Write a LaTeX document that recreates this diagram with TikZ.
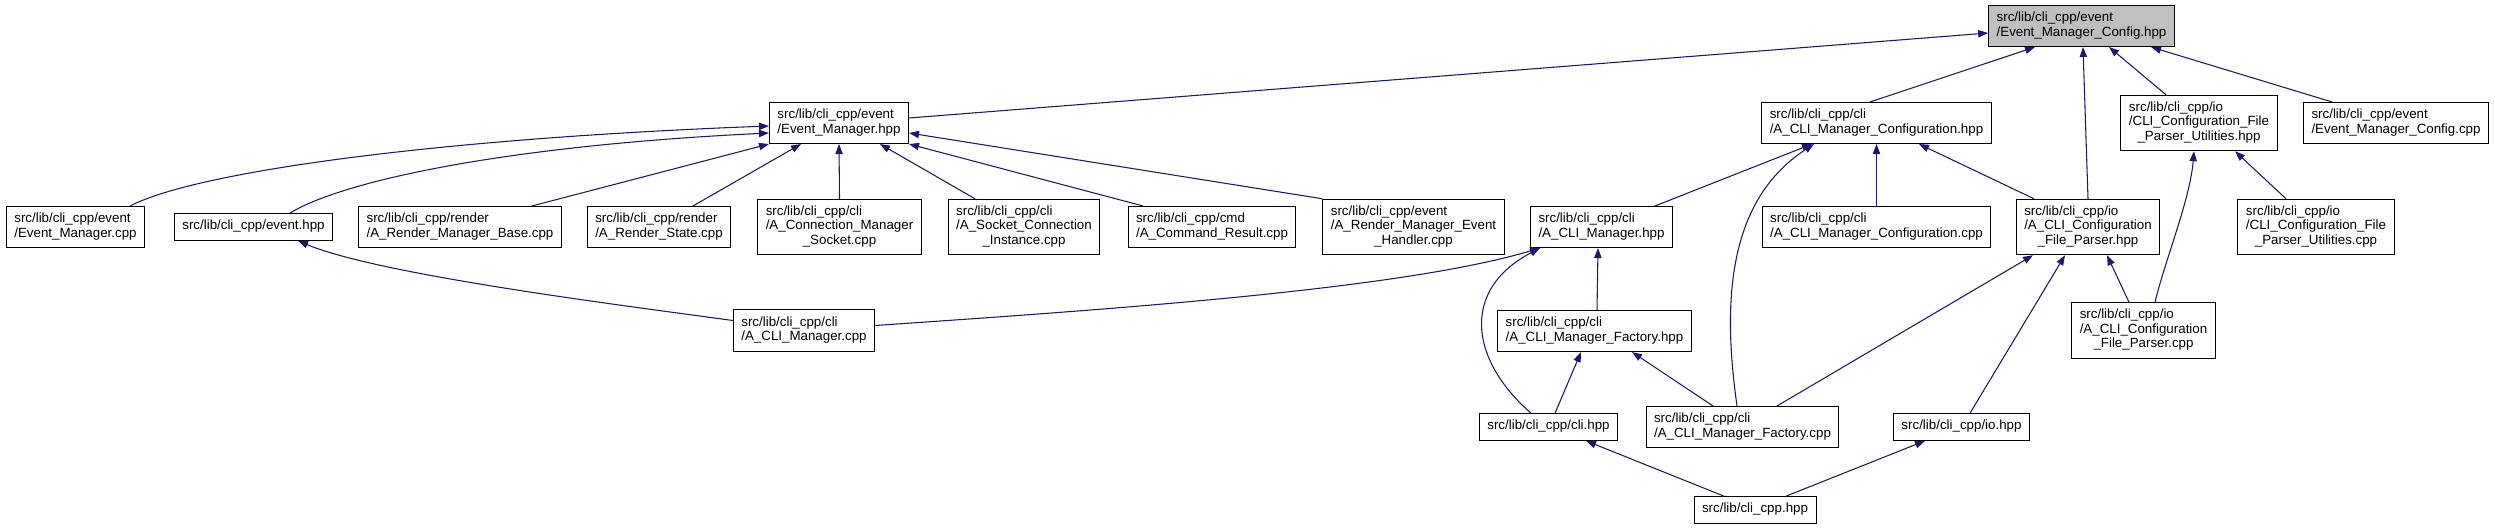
\documentclass[tikz,border=0pt]{standalone}
\usepackage{fontspec}
\setmainfont{Liberation Sans}
\usetikzlibrary{arrows.meta,calc}
\definecolor{edgecol}{HTML}{191970}
\definecolor{rootfill}{HTML}{BFBFBF}
\newcommand{\labone}[1]{\begin{tabular}{@{}l@{}}#1\end{tabular}}
\newcommand{\labtwo}[2]{\begin{tabular}{@{}l@{}}#1\\\multicolumn{1}{@{}c@{}}{#2}\end{tabular}}
\newcommand{\labthree}[3]{\begin{tabular}{@{}l@{}}#1\\#2\\\multicolumn{1}{@{}c@{}}{#3}\end{tabular}}
\tikzset{
  filebox/.style={draw=black, line width=0.75pt, fill=white, inner xsep=6pt, inner ysep=4.6pt,
    font=\fontsize{10}{10.8}\selectfont},
  rootbox/.style={filebox, fill=rootfill},
  dep/.style={draw=edgecol, line width=0.8pt, -{Triangle[length=7.5pt,width=5.5pt]}, fill=none}
}
\begin{document}
\begin{tikzpicture}[x=0.75pt,y=-0.75pt]
\useasboundingbox (0,0) rectangle (2495,528);
% row 0
\node[rootbox] (root) at (2081.5,26) {\labtwo{src/lib/cli\_cpp/event}{/Event\_Manager\_Config.hpp}};
% row 1
\node[filebox] (emh) at (839,123) {\labtwo{src/lib/cli\_cpp/event}{/Event\_Manager.hpp}};
\node[filebox] (cfgh) at (1876.5,123) {\labtwo{src/lib/cli\_cpp/cli}{/A\_CLI\_Manager\_Configuration.hpp}};
\node[filebox] (utilh) at (2199,123) {\labthree{src/lib/cli\_cpp/io}{/CLI\_Configuration\_File}{\_Parser\_Utilities.hpp}};
\node[filebox] (emcc) at (2396,123) {\labtwo{src/lib/cli\_cpp/event}{/Event\_Manager\_Config.cpp}};
% row 2
\node[filebox] (emcpp) at (75.5,227) {\labtwo{src/lib/cli\_cpp/event}{/Event\_Manager.cpp}};
\node[filebox] (eventh) at (253.5,227) {\labone{src/lib/cli\_cpp/event.hpp}};
\node[filebox] (rmb) at (460,227) {\labtwo{src/lib/cli\_cpp/render}{/A\_Render\_Manager\_Base.cpp}};
\node[filebox] (rs) at (659,227) {\labtwo{src/lib/cli\_cpp/render}{/A\_Render\_State.cpp}};
\node[filebox] (cms) at (839.5,227) {\labthree{src/lib/cli\_cpp/cli}{/A\_Connection\_Manager}{\_Socket.cpp}};
\node[filebox] (sci) at (1024,227) {\labthree{src/lib/cli\_cpp/cli}{/A\_Socket\_Connection}{\_Instance.cpp}};
\node[filebox] (cr) at (1212,227) {\labtwo{src/lib/cli\_cpp/cmd}{/A\_Command\_Result.cpp}};
\node[filebox] (rmeh) at (1413.5,227) {\labthree{src/lib/cli\_cpp/event}{/A\_Render\_Manager\_Event}{\_Handler.cpp}};
\node[filebox] (clih) at (1601.5,227) {\labtwo{src/lib/cli\_cpp/cli}{/A\_CLI\_Manager.hpp}};
\node[filebox] (cfgcpp) at (1876.5,227) {\labtwo{src/lib/cli\_cpp/cli}{/A\_CLI\_Manager\_Configuration.cpp}};
\node[filebox] (parserh) at (2088,227) {\labthree{src/lib/cli\_cpp/io}{/A\_CLI\_Configuration}{\_File\_Parser.hpp}};
\node[filebox] (utilcpp) at (2316,227) {\labthree{src/lib/cli\_cpp/io}{/CLI\_Configuration\_File}{\_Parser\_Utilities.cpp}};
% row 3
\node[filebox] (clicpp) at (804,330.5) {\labtwo{src/lib/cli\_cpp/cli}{/A\_CLI\_Manager.cpp}};
\node[filebox] (facth) at (1594.5,331) {\labtwo{src/lib/cli\_cpp/cli}{/A\_CLI\_Manager\_Factory.hpp}};
\node[filebox] (parsercpp) at (2143.5,330.5) {\labthree{src/lib/cli\_cpp/io}{/A\_CLI\_Configuration}{\_File\_Parser.cpp}};
% row 4
\node[filebox] (clihpp) at (1548.5,427) {\labone{src/lib/cli\_cpp/cli.hpp}};
\node[filebox] (factcpp) at (1742.5,427) {\labtwo{src/lib/cli\_cpp/cli}{/A\_CLI\_Manager\_Factory.cpp}};
\node[filebox] (ioh) at (1961.5,427) {\labone{src/lib/cli\_cpp/io.hpp}};
% row 5
\node[filebox] (top) at (1755,510) {\labone{src/lib/cli\_cpp.hpp}};

% edges to root
\draw[dep] ($(emh.east)+(0,-5)$) -- ($(root.west)+(0,7)$);
\draw[dep] ($(cfgh.north)+(-6.5,0)$) -- ($(root.south)+(-46.5,0)$);
\draw[dep] (parserh.north) -- ($(root.south)+(1.5,0)$);
\draw[dep] ($(utilh.north)+(-33,0)$) -- ($(root.south)+(27.5,0)$);
\draw[dep] ($(emcc.north)+(-64,0)$) -- ($(root.south)+(69.5,0)$);
% edges to Event_Manager.hpp
\draw[dep] ($(emcpp.north)+(54.5,0)$) .. controls (200,170) and (450,138) .. ($(emh.west)+(0,3)$);
\draw[dep] ($(eventh.north)+(36.5,0)$) .. controls (340,182) and (500,146) .. ($(emh.west)+(0,10)$);
\draw[dep] ($(rmb.north)+(72,0)$) -- (emh.south west);
\draw[dep] ($(rs.north)+(34,0)$) -- ($(emh.south)+(-38,0)$);
\draw[dep] (cms.north) -- (emh.south);
\draw[dep] ($(sci.north)+(-49,0)$) -- ($(emh.south)+(41,0)$);
\draw[dep] ($(cr.north)+(-69,0)$) -- (emh.south east);
\draw[dep] (rmeh.north west) -- ($(emh.east)+(0,10)$);
% A_CLI_Manager.cpp
\draw[dep] ($(clicpp.west)+(0,-10)$) .. controls (620,305) and (380,275) .. ($(eventh.south)+(44.5,0)$);
\draw[dep] ($(clicpp.east)+(0,-5)$) .. controls (1100,310) and (1400,290) .. ($(clih.south)+(-61.5,0)$);
% to A_CLI_Manager_Configuration.hpp
\draw[dep] ($(clih.north)+(53.5,0)$) -- ($(cfgh.south)+(-64.5,0)$);
\draw[dep] ($(factcpp.north)+(-5.5,0)$) .. controls (1722,300) and (1728,200) .. ($(cfgh.south)+(-62.5,0)$);
\draw[dep] (cfgcpp.north) -- (cfgh.south);
\draw[dep] ($(parserh.north)+(-54,0)$) -- ($(cfgh.south)+(42.5,0)$);
% to A_CLI_Manager.hpp
\draw[dep] ($(clihpp.north)+(-17.5,0)$) .. controls (1470,360) and (1460,290) .. ($(clih.south)+(-61.5,0)$);
\draw[dep] ($(facth.north)+(2.5,0)$) -- ($(clih.south)+(-3.5,0)$);
% to A_CLI_Manager_Factory.hpp
\draw[dep] ($(clihpp.north)+(6.5,0)$) -- ($(facth.south)+(-13.5,0)$);
\draw[dep] ($(factcpp.north)+(-29.5,0)$) -- ($(facth.south)+(37.5,0)$);
% to A_CLI_Configuration_File_Parser.hpp
\draw[dep] ($(factcpp.north)+(34.5,0)$) -- ($(parserh.south)+(-55,0)$);
\draw[dep] ($(ioh.north)+(8.5,0)$) -- ($(parserh.south)+(-23,0)$);
\draw[dep] ($(parsercpp.north)+(-14.5,0)$) -- ($(parserh.south)+(19,0)$);
% to Utilities.hpp
\draw[dep] ($(parsercpp.north)+(11.5,0)$) .. controls (2165,260) and (2190,200) .. ($(utilh.south)+(-5,0)$);
\draw[dep] ($(utilcpp.north)+(-30,0)$) -- ($(utilh.south)+(36,0)$);
% cli_cpp.hpp
\draw[dep] ($(top.north)+(-31,0)$) -- ($(clihpp.south)+(37.5,0)$);
\draw[dep] ($(top.north)+(31,0)$) -- ($(ioh.south)+(-36.5,0)$);
\end{tikzpicture}
\end{document}
